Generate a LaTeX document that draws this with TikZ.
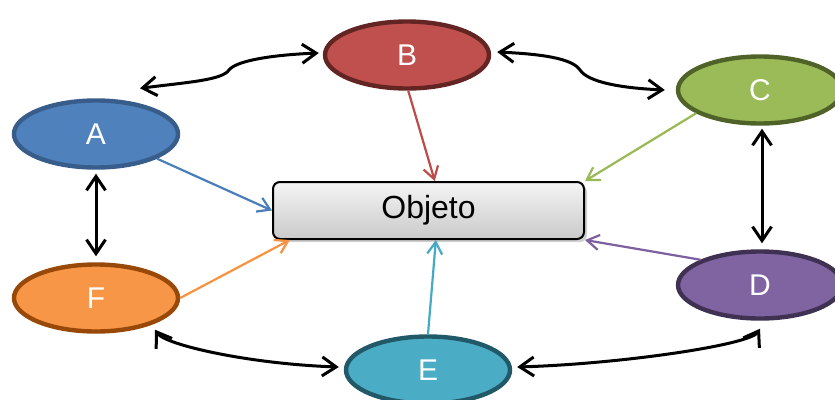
\documentclass[tikz,border=0pt]{standalone}
\usepackage{fontspec}
\setmainfont{Liberation Sans}
\usetikzlibrary{shapes.geometric,arrows.meta,shadows}
\definecolor{fA}{HTML}{4F81BD}\definecolor{bA}{HTML}{385D8A}\definecolor{aA}{HTML}{4A7EBB}
\definecolor{fB}{HTML}{C0504D}\definecolor{bB}{HTML}{632523}\definecolor{aB}{HTML}{BE4B48}
\definecolor{fC}{HTML}{9BBB59}\definecolor{bC}{HTML}{4F6228}\definecolor{aC}{HTML}{98B954}
\definecolor{fD}{HTML}{8064A2}\definecolor{bD}{HTML}{3F3151}\definecolor{aD}{HTML}{7D60A0}
\definecolor{fE}{HTML}{4BACC6}\definecolor{bE}{HTML}{215968}\definecolor{aE}{HTML}{46AAC5}
\definecolor{fF}{HTML}{F79646}\definecolor{bF}{HTML}{984807}\definecolor{aF}{HTML}{F69240}
\tikzset{
  oval/.style={ellipse, minimum width=164pt, minimum height=67pt, inner sep=0pt,
    line width=4.4pt, text=white, font=\fontsize{30}{36}\selectfont},
  objbox/.style={rectangle, rounded corners=7pt, minimum width=311pt, minimum height=57pt,
    draw=black, line width=2pt, top color=gray!8, bottom color=gray!42,
    font=\fontsize{32}{38}\selectfont,
    drop shadow={shadow xshift=3pt, shadow yshift=-3pt, fill=gray!60, opacity=0.6}},
  link/.style={line width=3pt, black, {Straight Barb[length=14pt,width=19pt]}-{Straight Barb[length=14pt,width=19pt]}},
  feed/.style={line width=2.2pt, -{Straight Barb[length=12pt,width=15pt]}}
}
\begin{document}
\begin{tikzpicture}[x=1pt,y=-1pt]
\useasboundingbox[fill=white] (0,0) rectangle (835,399);
\node[objbox] (obj) at (428.5,210.5) {\raisebox{-2pt}{Objeto}};
\node[oval, fill=fA, draw=bA] (A) at (96,134) {A};
\node[oval, fill=fB, draw=bB] (B) at (407,55) {B};
\node[oval, fill=fC, draw=bC] (C) at (760,90) {C};
\node[oval, fill=fD, draw=bD] (D) at (760,285) {D};
\node[oval, fill=fE, draw=bE] (E) at (428,370) {E};
\node[oval, fill=fF, draw=bF] (F) at (96,298) {F};
% feeds into Objeto
\draw[feed, aA] (A.-22) -- (obj.west);
\draw[feed, aB] (B.-88) -- (obj.78);
\draw[feed, aC] (C.200) -- (obj.north east);
\draw[feed, aD] (D.157) -- (obj.south east);
\draw[feed, aE] (E.north) -- (obj.-76);
\draw[feed, aF] (F.east) -- (obj.192);
% links between neighbours
\draw[link] ([shift={(44,-10)}]A.north) .. controls (190,82) and (222,80) .. (229,70)
  .. controls (236,61) and (270,55) .. ([shift={(-4,-2)}]B.west);
\draw[link] ([shift={(6,-3)}]B.east) .. controls (540,54) and (572,58) .. (580,70)
  .. controls (588,82) and (620,88) .. ([shift={(-11,0)}]C.west);
\draw[link] ([shift={(2,3)}]C.south) -- ([shift={(2,-6)}]D.north);
\draw[link] ([shift={(0,4)}]A.south) -- ([shift={(0,-6)}]F.north);
\draw[link] ([shift={(59,-4)}]F.south) .. controls (165,345) and (250,364) .. ([shift={(-5,-3)}]E.west);
\draw[link] ([shift={(5,-3)}]E.east) .. controls (620,364) and (750,345) .. ([shift={(0,8)}]D.south);
\end{tikzpicture}
\end{document}
